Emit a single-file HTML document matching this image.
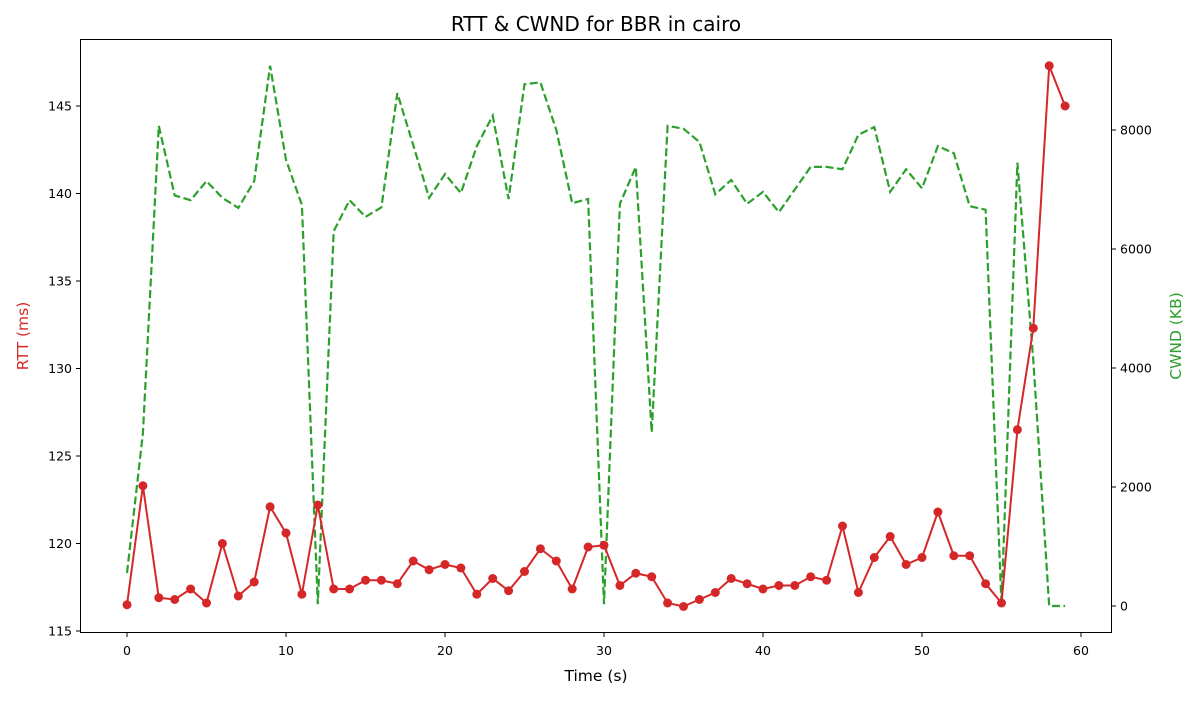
<!DOCTYPE html>
<html><head><meta charset="utf-8"><style>
body{margin:0;background:#fff;font-family:"Liberation Sans","DejaVu Sans",sans-serif}
svg text{font-family:"DejaVu Sans","Liberation Sans",sans-serif}
</style></head><body>
<svg id="chart" width="1200" height="700" xmlns="http://www.w3.org/2000/svg">
<rect x="0" y="0" width="1200" height="700" fill="#fff"/>
<text x="596" y="31" font-size="20" text-anchor="middle">RTT &amp; CWND for BBR in cairo</text>
<rect x="80.5" y="39.5" width="1031" height="593" fill="none" stroke="#000" stroke-width="1"/>
<text x="596" y="681" font-size="15.5" text-anchor="middle">Time (s)</text>
<text transform="translate(28,336) rotate(-90)" font-size="15.5" fill="#d62728" text-anchor="middle">RTT (ms)</text>
<text transform="translate(1181,336) rotate(-90)" font-size="15.5" fill="#2ca02c" text-anchor="middle">CWND (KB)</text>
</svg>
<script>
const times = [0,1,2,3,4,5,6,7,8,9,10,11,12,13,14,15,16,17,18,19,20,21,22,23,24,25,26,27,28,29,30,31,32,33,34,35,36,37,38,39,40,41,42,43,44,45,46,47,48,49,50,51,52,53,54,55,56,57,58,59];
const rtt = [116.5,123.3,116.9,116.8,117.4,116.6,120.0,117.0,117.8,122.1,120.6,117.1,122.2,117.4,117.4,117.9,117.9,117.7,119.0,118.5,118.8,118.6,117.1,118.0,117.3,118.4,119.7,119.0,117.4,119.8,119.9,117.6,118.3,118.1,116.6,116.4,116.8,117.2,118.0,117.7,117.4,117.6,117.6,118.1,117.9,121.0,117.2,119.2,120.4,118.8,119.2,121.8,119.3,119.3,117.7,116.6,126.5,132.3,147.3,145.0];
const cwnd = [555,2900,8070,6900,6820,7140,6860,6690,7140,9080,7500,6740,30,6300,6820,6540,6700,8620,7750,6860,7260,6940,7730,8240,6840,8770,8800,8000,6770,6840,30,6760,7380,2920,8070,8020,7800,6920,7160,6760,6960,6620,7000,7380,7380,7340,7920,8050,6960,7340,7020,7730,7610,6720,6660,30,7450,4130,0,0];
const xTicks = [0,10,20,30,40,50,60];
const leftTicks = [115,120,125,130,135,140,145];
const rightTicks = [0,2000,4000,6000,8000];

const X = t => 127 + t*(1081-127)/60;
const YL = v => 631 - (v-115)*(631-106)/30;
const YR = v => 606 - v*(606-130)/8000;
const svg = document.getElementById('chart');
const NS = 'http://www.w3.org/2000/svg';
function mk(tag, attrs){const e=document.createElementNS(NS,tag);for(const k in attrs)e.setAttribute(k,attrs[k]);svg.appendChild(e);return e;}

xTicks.forEach(t=>{
  const l=mk('line',{x1:X(t),x2:X(t),y1:633,y2:637,stroke:'#000'});
  
  
  const tx=mk('text',{x:X(t),y:655,'font-size':12.5,'text-anchor':'middle'});tx.textContent=t;
  
  
});
leftTicks.forEach(v=>{
  const l=mk('line',{x1:76,x2:80,y1:YL(v),y2:YL(v),stroke:'#000'});
  
  
  const tx=mk('text',{x:72,y:YL(v)+4.5,'font-size':12.5,'text-anchor':'end'});tx.textContent=v;
  
  
});
rightTicks.forEach(v=>{
  const l=mk('line',{x1:1112,x2:1116,y1:YR(v),y2:YR(v),stroke:'#000'});
  
  
  const tx=mk('text',{x:1120,y:YR(v)+4.5,'font-size':12.5,'text-anchor':'start'});tx.textContent=v;
  
  
});

const cw=mk('polyline',{points:times.map((t,i)=>X(t)+','+YR(cwnd[i])).join(' '),fill:'none',stroke:'#2ca02c','stroke-width':2.2,'stroke-dasharray':'8,3.5'});



const rl=mk('polyline',{points:times.map((t,i)=>X(t)+','+YL(rtt[i])).join(' '),fill:'none',stroke:'#d62728','stroke-width':2});


times.forEach((t,i)=>{
  const c=mk('circle',{cx:X(t),cy:YL(rtt[i]),r:4.5,fill:'#d62728'});
  
  
});
</script>
</body></html>
